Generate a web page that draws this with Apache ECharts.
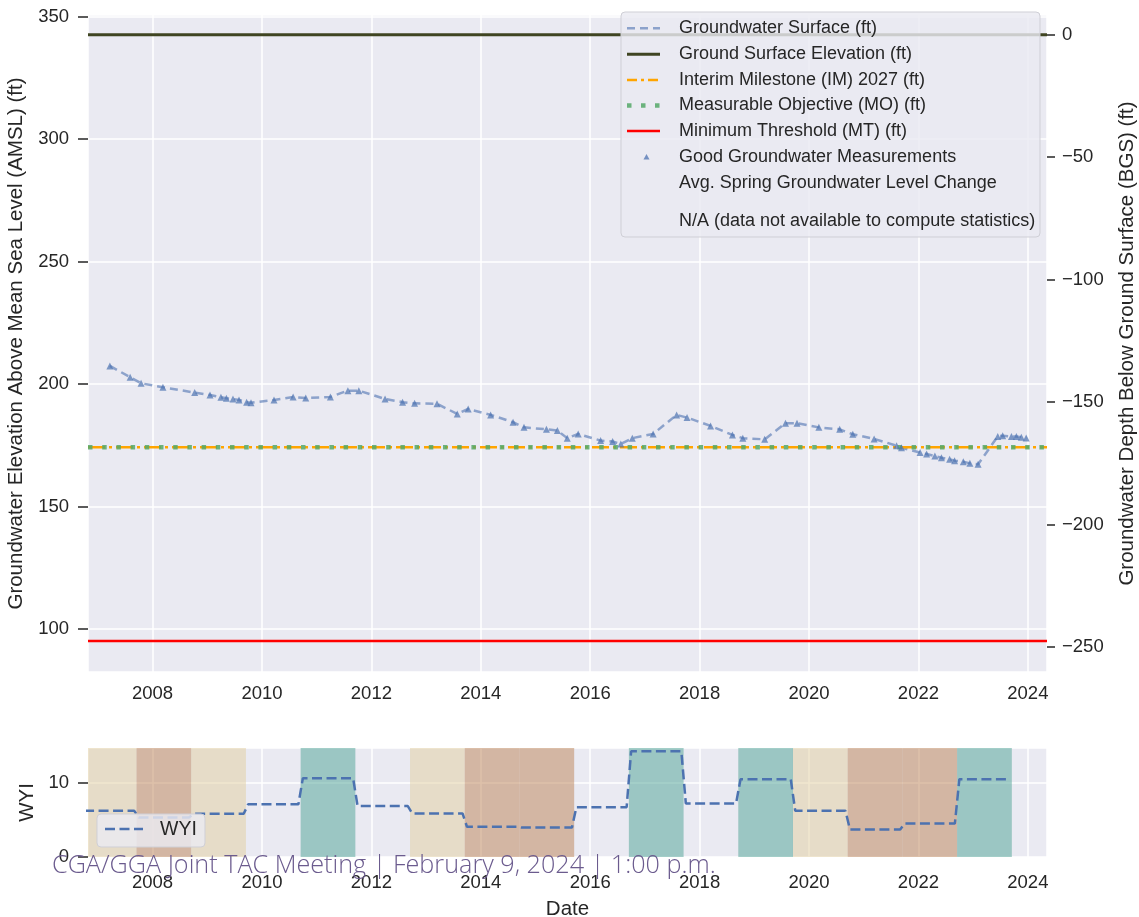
<!DOCTYPE html>
<html><head><meta charset="utf-8">
<script src="https://cdn.jsdelivr.net/npm/echarts@6/dist/echarts.min.js"></script>
<style>html,body{margin:0;padding:0;background:#fff}#c{width:1139px;height:917px}</style>
</head><body><div id="c"></div>
<script>
// ---- data (x values are decimal years) ----
const gwYears = [2007.22, 2007.59, 2007.79, 2008.19, 2008.77, 2009.05, 2009.25, 2009.35, 2009.47, 2009.58, 2009.72, 2009.80, 2010.22, 2010.57, 2010.80, 2011.25, 2011.57, 2011.77, 2012.25, 2012.57, 2012.79, 2013.20, 2013.57, 2013.77, 2014.18, 2014.59, 2014.79, 2015.20, 2015.40, 2015.58, 2015.78, 2016.19, 2016.41, 2016.56, 2016.77, 2017.15, 2017.58, 2017.77, 2018.20, 2018.60, 2018.79, 2019.19, 2019.57, 2019.78, 2020.18, 2020.56, 2020.80, 2021.19, 2021.60, 2021.69, 2022.03, 2022.15, 2022.30, 2022.42, 2022.57, 2022.66, 2022.82, 2022.94, 2023.09, 2023.45, 2023.54, 2023.70, 2023.79, 2023.88, 2023.97];
const gwElev = [207.4, 202.8, 200.3, 198.7, 196.5, 195.5, 194.6, 194.2, 193.9, 193.5, 192.6, 192.4, 193.5, 194.7, 194.3, 194.7, 197.3, 197.3, 193.9, 192.6, 192.1, 191.9, 187.8, 189.8, 187.4, 184.4, 182.3, 181.5, 181.0, 177.9, 179.6, 176.9, 176.5, 175.5, 177.9, 179.6, 187.4, 186.3, 182.9, 179.2, 177.9, 177.4, 184.0, 184.0, 182.3, 181.5, 179.5, 177.6, 174.8, 174.0, 172.0, 171.4, 170.6, 169.9, 169.3, 168.7, 168.3, 167.6, 167.2, 178.6, 178.9, 178.6, 178.6, 178.3, 178.0];
const groundSurfaceElev = 342.65;
const interimMilestone = 174.2;
const measurableObjective = 174.2;
const minimumThreshold = 95.1;

const waterYears = [2007, 2008, 2009, 2010, 2011, 2012, 2013, 2014, 2015, 2016, 2017, 2018, 2019, 2020, 2021, 2022, 2023];
const wyiValues  = [6.2, 5.3, 5.8, 7.1, 10.6, 6.85, 5.85, 4.05, 3.95, 6.7, 14.2, 7.2, 10.45, 6.2, 3.7, 4.5, 10.45];
const wyiClass   = ['D', 'C', 'D', 'BN', 'W', 'BN', 'D', 'C', 'C', 'BN', 'W', 'BN', 'W', 'D', 'C', 'C', 'W'];

const legendLabels = ['Groundwater Surface (ft)', 'Ground Surface Elevation (ft)', 'Interim Milestone (IM) 2027 (ft)', 'Measurable Objective (MO) (ft)', 'Minimum Threshold (MT) (ft)', 'Good Groundwater Measurements', 'Avg. Spring Groundwater Level Change', 'N/A (data not available to compute statistics)'];
const footerText = 'CGA/GGA Joint TAC Meeting | February 9, 2024 | 1:00 p.m.';

// ---- layout / styling ----
const xMin = 2006.82, xMax = 2024.35;
const yMin = 82.4, yMax = 350.7;
const FONT = '"Liberation Sans", Arial, sans-serif';
const TXT = '#262626';

const gwData = gwYears.map((x, i) => [x, gwElev[i]]);
const hline = v => [[xMin, v], [xMax, v]];

const wyiLine = [];
waterYears.forEach((wy, i) => {
  wyiLine.push([wy - 1 + 0.748, wyiValues[i]]);
  wyiLine.push([wy + 0.666, wyiValues[i]]);
});
const bandColor = { D: 'rgba(226,206,158,0.5)', C: 'rgba(188,130,84,0.5)', W: 'rgba(76,162,148,0.5)' };
const bands = [];
waterYears.forEach((wy, i) => {
  const c = bandColor[wyiClass[i]];
  if (!c) return;
  const a = Math.max(xMin, wy - 1 + 0.707), b = Math.min(xMax, wy + 0.707);
  bands.push([{ xAxis: a, itemStyle: { color: c } }, { xAxis: b }]);
});

const minus = v => (v < 0 ? '\u2212' + Math.abs(v) : String(v));
const yearFmt = v => String(Math.round(v));

const chart = echarts.init(document.getElementById('c'), null, { renderer: 'canvas' });

const axisLabelBase = { color: TXT, fontSize: 18.5, fontFamily: FONT, showMinLabel: false, showMaxLabel: false };
const tickBase = { show: true, length: 7, lineStyle: { color: TXT, width: 1.5 } };
const noLine = { show: false, onZero: false };

// legend graphic
const lx1 = 627, lx2 = 660, ltx = 679;
const rowY = [28.3, 54.3, 80, 105.5, 131, 157, 182.7, 221];
const legendEls = [
  { type: 'rect', z: 50, shape: { x: 621, y: 12, width: 419, height: 225, r: 4 }, style: { fill: 'rgba(234,234,242,0.82)', stroke: '#cfcfd6', lineWidth: 1 } },
  { type: 'line', z: 51, shape: { x1: lx1, y1: rowY[0], x2: lx2, y2: rowY[0] }, style: { stroke: 'rgba(76,114,176,0.6)', lineWidth: 2.5, lineDash: [8, 5] } },
  { type: 'line', z: 51, shape: { x1: lx1, y1: rowY[1], x2: lx2, y2: rowY[1] }, style: { stroke: '#3f4522', lineWidth: 3 } },
  { type: 'line', z: 51, shape: { x1: lx1, y1: rowY[2], x2: lx2, y2: rowY[2] }, style: { stroke: '#ffa500', lineWidth: 2.5, lineDash: [10, 4, 3, 4] } },
  { type: 'line', z: 51, shape: { x1: lx1, y1: rowY[3], x2: lx2, y2: rowY[3] }, style: { stroke: 'rgba(85,168,104,0.85)', lineWidth: 4.5, lineDash: [4.5, 9.5] } },
  { type: 'line', z: 51, shape: { x1: lx1, y1: rowY[4], x2: lx2, y2: rowY[4] }, style: { stroke: '#ff0000', lineWidth: 2.5 } },
  { type: 'polygon', z: 51, shape: { points: [[646.5, rowY[5] - 3], [649.5, rowY[5] + 2.5], [643.5, rowY[5] + 2.5]] }, style: { fill: 'rgba(76,114,176,0.75)' } }
];
legendLabels.forEach((t, i) => {
  legendEls.push({ type: 'text', z: 51, style: { text: t, x: ltx, y: rowY[i], fill: TXT, fontSize: 18, fontFamily: FONT, verticalAlign: 'middle', align: 'left' } });
});

const option = {
  animation: false,
  backgroundColor: '#ffffff',
  grid: [
    { left: 88, right: 92, top: 15, height: 657, show: true, backgroundColor: '#eaeaf2', borderWidth: 0, containLabel: false, outerBoundsMode: 'none' },
    { left: 88, right: 92, top: 748, height: 109, show: true, backgroundColor: '#eaeaf2', borderWidth: 0, containLabel: false, outerBoundsMode: 'none' }
  ],
  xAxis: [
    { type: 'value', gridIndex: 0, min: xMin, max: xMax, splitNumber: 9,
      axisLine: noLine, axisTick: { show: false },
      axisLabel: Object.assign({}, axisLabelBase, { margin: 12, formatter: yearFmt }),
      splitLine: { show: true, lineStyle: { color: '#ffffff', width: 1.5 } } },
    { type: 'value', gridIndex: 1, min: xMin, max: xMax, splitNumber: 9,
      axisLine: noLine, axisTick: { show: false },
      axisLabel: Object.assign({}, axisLabelBase, { margin: 16, formatter: yearFmt }),
      name: 'Date', nameLocation: 'middle', nameGap: 42,
      nameTextStyle: { color: TXT, fontSize: 20.5, fontFamily: FONT },
      splitLine: { show: true, lineStyle: { color: '#ffffff', width: 1.5 } } }
  ],
  yAxis: [
    { type: 'value', gridIndex: 0, min: yMin, max: yMax, splitNumber: 6, position: 'left',
      axisLine: noLine, axisTick: Object.assign({}, tickBase, { length: 10 }),
      axisLabel: Object.assign({}, axisLabelBase, { margin: 19 }),
      name: 'Groundwater Elevation Above Mean Sea Level (AMSL) (ft)', nameLocation: 'middle', nameRotate: 90, nameGap: 60,
      nameTextStyle: { color: TXT, fontSize: 20.5, fontFamily: FONT },
      splitLine: { show: true, lineStyle: { color: '#ffffff', width: 1.5 } } },
    { type: 'value', gridIndex: 0, min: yMin - groundSurfaceElev, max: yMax - groundSurfaceElev, splitNumber: 6, position: 'right',
      axisLine: noLine, axisTick: Object.assign({}, tickBase, { length: 8 }),
      axisLabel: Object.assign({}, axisLabelBase, { margin: 15, formatter: minus }),
      name: 'Groundwater Depth Below Ground Surface (BGS) (ft)', nameLocation: 'middle', nameRotate: 90, nameGap: 70,
      nameTextStyle: { color: TXT, fontSize: 20.5, fontFamily: FONT },
      splitLine: { show: false } },
    { type: 'value', gridIndex: 1, min: 0, max: 14.65, interval: 10,
      axisLine: noLine, axisTick: Object.assign({}, tickBase, { length: 10 }),
      axisLabel: { color: TXT, fontSize: 18.5, fontFamily: FONT, margin: 19, showMaxLabel: false },
      name: 'WYI', nameLocation: 'middle', nameRotate: 90, nameGap: 48,
      nameTextStyle: { color: TXT, fontSize: 20.5, fontFamily: FONT },
      splitLine: { show: true, lineStyle: { color: '#ffffff', width: 1.5 } } }
  ],
  series: [
    { name: 'Groundwater Surface (ft)', type: 'line', xAxisIndex: 0, yAxisIndex: 0, data: gwData, showSymbol: false, symbol: 'none',
      lineStyle: { color: '#4c72b0', width: 2.5, type: [8, 5], opacity: 0.6 }, z: 2, silent: true },
    { name: 'Ground Surface Elevation (ft)', type: 'line', xAxisIndex: 0, yAxisIndex: 0, data: hline(groundSurfaceElev), symbol: 'none',
      lineStyle: { color: '#3f4522', width: 3 }, z: 3, silent: true },
    { name: 'Interim Milestone (IM) 2027 (ft)', type: 'line', xAxisIndex: 0, yAxisIndex: 0, data: hline(interimMilestone), symbol: 'none',
      lineStyle: { color: '#ffa500', width: 2.5, type: [17, 4, 3, 4] }, z: 3, silent: true },
    { name: 'Measurable Objective (MO) (ft)', type: 'line', xAxisIndex: 0, yAxisIndex: 0, data: hline(measurableObjective), symbol: 'none',
      lineStyle: { color: '#55a868', width: 4.5, type: [4.5, 9.7], opacity: 0.85 }, z: 4, silent: true },
    { name: 'Minimum Threshold (MT) (ft)', type: 'line', xAxisIndex: 0, yAxisIndex: 0, data: hline(minimumThreshold), symbol: 'none',
      lineStyle: { color: '#ff0000', width: 2.5 }, z: 3, silent: true },
    { name: 'Good Groundwater Measurements', type: 'scatter', xAxisIndex: 0, yAxisIndex: 0, data: gwData, symbol: 'triangle', symbolSize: 7,
      itemStyle: { color: '#4c72b0', opacity: 0.7 }, z: 5, silent: true },
    { name: 'bands', type: 'line', xAxisIndex: 1, yAxisIndex: 2, data: wyiLine, symbol: 'none', lineStyle: { opacity: 0 }, z: 1, silent: true,
      markArea: { silent: true, data: bands } },
    { name: 'WYI', type: 'line', xAxisIndex: 1, yAxisIndex: 2, data: wyiLine, symbol: 'none',
      lineStyle: { color: '#4c72b0', width: 2.5, type: [10, 4.5] }, z: 3, silent: true }
  ],
  graphic: [
    { type: 'group', z: 50, children: legendEls },
    { type: 'group', z: 50, children: [
      { type: 'rect', z: 50, shape: { x: 97, y: 814, width: 108, height: 33, r: 4 }, style: { fill: 'rgba(234,234,242,0.82)', stroke: '#cfcfd6', lineWidth: 1 } },
      { type: 'line', z: 51, shape: { x1: 105, y1: 829, x2: 143, y2: 829 }, style: { stroke: '#4c72b0', lineWidth: 2.5, lineDash: [10, 4.5] } },
      { type: 'text', z: 51, style: { text: 'WYI', x: 160, y: 830, fill: TXT, fontSize: 19.5, fontFamily: FONT, verticalAlign: 'middle' } }
    ] },
    { type: 'text', z: 100, style: { text: footerText, x: 52, y: 866, fill: '#6b5b8e', fontSize: 25.2, fontFamily: '"Open Sans", Lato, sans-serif', fontWeight: 300, verticalAlign: 'middle' } }
  ]
};
chart.setOption(option);
</script>
</body></html>
